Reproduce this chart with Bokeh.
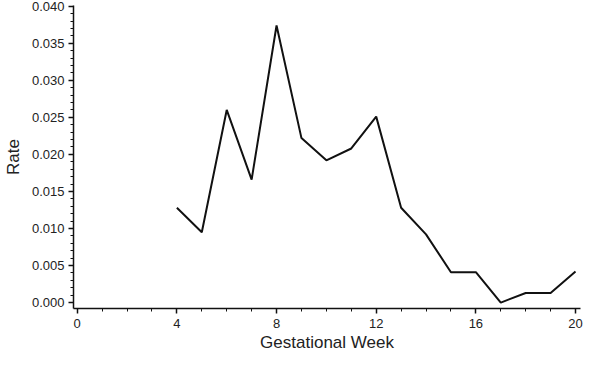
from bokeh.plotting import figure
from bokeh.models import SingleIntervalTicker, NumeralTickFormatter, Range1d, Title
from bokeh.embed import file_html
from bokeh.resources import INLINE

weeks = [4, 5, 6, 7, 8, 9, 10, 11, 12, 13, 14, 15, 16, 17, 18, 19, 20]
rate = [0.0128, 0.0095, 0.0260, 0.0166, 0.0374, 0.0222, 0.0192, 0.0208, 0.0251,
        0.0128, 0.0092, 0.0041, 0.0041, 0.0000, 0.0013, 0.0013, 0.0042]

x_label = "Gestational Week"
y_label = "Rate"

p = figure(width=584, height=351, output_backend="svg", toolbar_location=None,
           x_range=Range1d(-0.15, 20.2), y_range=Range1d(-0.0008, 0.0401),
           min_border_left=0, min_border_right=4, min_border_top=5,
           min_border_bottom=0)

p.line(weeks, rate, line_color="#111111", line_width=2)

p.outline_line_color = None
p.xgrid.visible = False
p.ygrid.visible = False

font = "Liberation Sans"
for ax in (p.xaxis[0], p.yaxis[0]):
    ax.axis_line_color = "#111111"
    ax.axis_line_width = 1.5
    ax.major_tick_line_color = "#111111"
    ax.major_tick_line_width = 1.5
    ax.minor_tick_line_color = "#111111"
    ax.minor_tick_line_width = 1
    ax.major_tick_out = 5
    ax.major_tick_in = 0
    ax.minor_tick_out = 3
    ax.minor_tick_in = 0
    ax.major_label_text_font = font
    ax.major_label_text_font_size = "13px"
    ax.major_label_text_color = "#222222"
    ax.axis_label_text_font = font
    ax.axis_label_text_font_size = "17px"
    ax.axis_label_text_font_style = "normal"
    ax.axis_label_text_color = "#222222"

p.xaxis[0].ticker = SingleIntervalTicker(interval=4, num_minor_ticks=4)
p.yaxis[0].ticker = SingleIntervalTicker(interval=0.005, num_minor_ticks=5)
p.yaxis[0].formatter = NumeralTickFormatter(format="0.000")
p.yaxis[0].axis_label = y_label
p.xaxis[0].major_label_standoff = 5
p.yaxis[0].major_label_standoff = 4
p.yaxis[0].axis_label_standoff = 6

t = Title(text=x_label, align="center", standoff=0, offset=0,
          text_font=font, text_font_size="17px", text_font_style="normal",
          text_color="#222222", text_line_height=0.8)
p.add_layout(t, "below")

open("out.html", "w").write(file_html(p, INLINE))
